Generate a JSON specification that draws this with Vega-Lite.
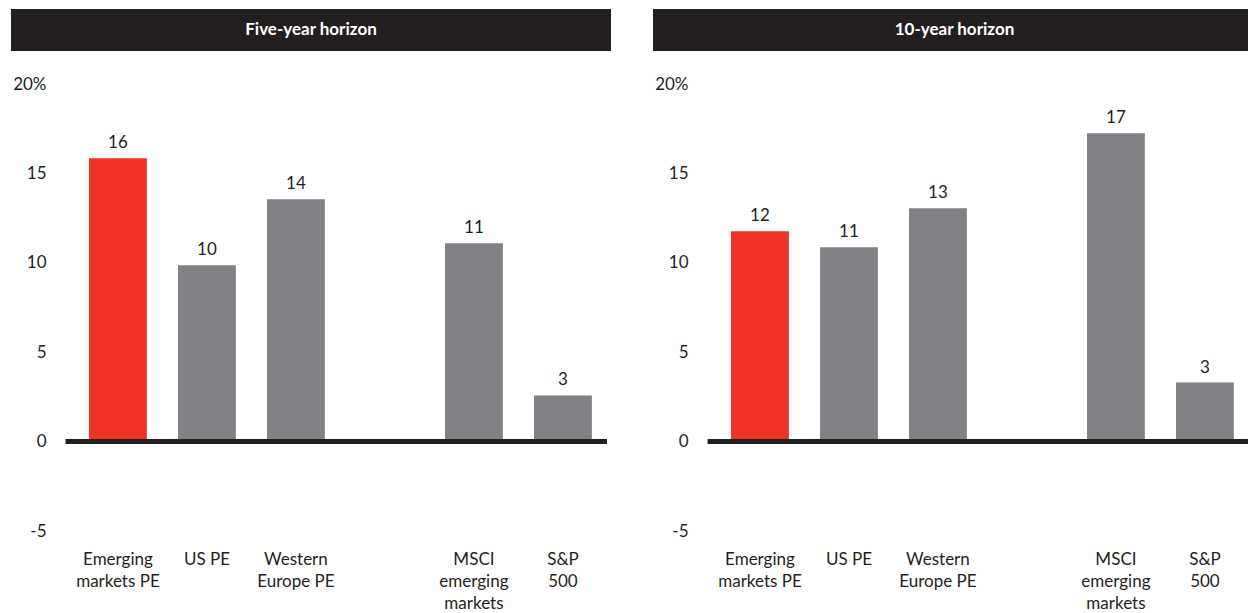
{
  "$schema": "https://vega.github.io/schema/vega-lite/v6.json",
  "padding": {"left": 11, "top": 9, "right": 0, "bottom": 0},
  "background": "white",
  "config": {
    "view": {"stroke": null},
    "font": "Lato",
    "axis": {"grid": false, "domain": false, "ticks": false, "labelFont": "Lato", "labelColor": "#231f20", "labelFontSize": 17}
  },
  "datasets": {
    "returns": [
      {"horizon": "Five-year horizon", "category": "Emerging markets PE", "value": 15.85, "highlight": "yes"},
      {"horizon": "Five-year horizon", "category": "US PE", "value": 9.86, "highlight": "no"},
      {"horizon": "Five-year horizon", "category": "Western Europe PE", "value": 13.56, "highlight": "no"},
      {"horizon": "Five-year horizon", "category": "MSCI emerging markets", "value": 11.09, "highlight": "no"},
      {"horizon": "Five-year horizon", "category": "S&P 500", "value": 2.58, "highlight": "no"},
      {"horizon": "10-year horizon", "category": "Emerging markets PE", "value": 11.76, "highlight": "yes"},
      {"horizon": "10-year horizon", "category": "US PE", "value": 10.87, "highlight": "no"},
      {"horizon": "10-year horizon", "category": "Western Europe PE", "value": 13.05, "highlight": "no"},
      {"horizon": "10-year horizon", "category": "MSCI emerging markets", "value": 17.25, "highlight": "no"},
      {"horizon": "10-year horizon", "category": "S&P 500", "value": 3.3, "highlight": "no"}
    ],
    "titles": [
      {"horizon": "Five-year horizon"},
      {"horizon": "10-year horizon"}
    ]
  },
  "hconcat": [
    {
      "spacing": 24,
      "vconcat": [
        {
          "width": 600,
          "height": 42,
          "view": {"fill": "#231f20", "stroke": null},
          "data": {"name": "titles"},
          "transform": [{"filter": "datum.horizon == 'Five-year horizon'"}],
          "mark": {"type": "text", "color": "white", "fontWeight": "bold", "fontSize": 17, "font": "Lato"},
          "encoding": {"text": {"field": "horizon"}}
        },
        {
          "width": 600,
          "height": 447,
          "data": {"name": "returns"},
          "transform": [{"filter": "datum.horizon == 'Five-year horizon'"}],
          "encoding": {
            "x": {
              "field": "category",
              "type": "nominal",
              "sort": null,
              "scale": {"domain": ["Emerging markets PE", "US PE", "Western Europe PE", "gap", "MSCI emerging markets", "S&P 500"], "paddingInner": 0.35, "paddingOuter": 0.5458, "align": 0.803},
              "axis": {"title": null, "labelAngle": 0, "labelPadding": 20, "labelLineHeight": 22, "labelBaseline": "top",
                "labelExpr": "datum.value == 'Emerging markets PE' ? ['Emerging', 'markets PE'] : datum.value == 'Western Europe PE' ? ['Western', 'Europe PE'] : datum.value == 'MSCI emerging markets' ? ['MSCI', 'emerging', 'markets'] : datum.value == 'S&P 500' ? ['S&P', '500'] : datum.value == 'gap' ? '' : datum.label"}
            },
            "y": {
              "field": "value",
              "type": "quantitative",
              "scale": {"domain": [-5, 20], "nice": false, "zero": false},
              "axis": {"title": null, "offset": -55, "values": [-5, 0, 5, 10, 15, 20], "labelPadding": 20, "labelExpr": "datum.value == 20 ? '20%' : datum.value == -5 ? '-5' : datum.label"}
            }
          },
          "layer": [
            {
              "mark": {"type": "bar"},
              "encoding": {
                "color": {"field": "highlight", "type": "nominal", "scale": {"domain": ["yes", "no"], "range": ["#ee3224", "#808285"]}, "legend": null}
              }
            },
            {
              "mark": {"type": "text", "baseline": "bottom", "dy": -6, "fontSize": 17, "color": "#231f20"},
              "encoding": {"text": {"field": "value", "type": "quantitative", "format": ".0f"}}
            },
            {
              "mark": {"type": "rule", "color": "#231f20", "strokeWidth": 5},
              "encoding": {
                "y": {"datum": 0},
                "x": {"datum": "Emerging markets PE", "bandPosition": -0.4},
                "x2": {"datum": "S&P 500", "bandPosition": 1.26}
              }
            }
          ]
        }
      ]
    },
    {
      "spacing": 24,
      "vconcat": [
        {
          "width": 595,
          "height": 42,
          "view": {"fill": "#231f20", "stroke": null},
          "data": {"name": "titles"},
          "transform": [{"filter": "datum.horizon == '10-year horizon'"}],
          "mark": {"type": "text", "color": "white", "fontWeight": "bold", "fontSize": 17, "font": "Lato", "dx": 4},
          "encoding": {"text": {"field": "horizon"}}
        },
        {
          "width": 595,
          "height": 447,
          "data": {"name": "returns"},
          "transform": [{"filter": "datum.horizon == '10-year horizon'"}],
          "encoding": {
            "x": {
              "field": "category",
              "type": "nominal",
              "sort": null,
              "scale": {"domain": ["Emerging markets PE", "US PE", "Western Europe PE", "gap", "MSCI emerging markets", "S&P 500"], "paddingInner": 0.35, "paddingOuter": 0.518, "align": 0.8465},
              "axis": {"title": null, "labelAngle": 0, "labelPadding": 20, "labelLineHeight": 22, "labelBaseline": "top",
                "labelExpr": "datum.value == 'Emerging markets PE' ? ['Emerging', 'markets PE'] : datum.value == 'Western Europe PE' ? ['Western', 'Europe PE'] : datum.value == 'MSCI emerging markets' ? ['MSCI', 'emerging', 'markets'] : datum.value == 'S&P 500' ? ['S&P', '500'] : datum.value == 'gap' ? '' : datum.label"}
            },
            "y": {
              "field": "value",
              "type": "quantitative",
              "scale": {"domain": [-5, 20], "nice": false, "zero": false},
              "axis": {"title": null, "offset": -55, "values": [-5, 0, 5, 10, 15, 20], "labelPadding": 20, "labelExpr": "datum.value == 20 ? '20%' : datum.value == -5 ? '-5' : datum.label"}
            }
          },
          "layer": [
            {
              "mark": {"type": "bar"},
              "encoding": {
                "color": {"field": "highlight", "type": "nominal", "scale": {"domain": ["yes", "no"], "range": ["#ee3224", "#808285"]}, "legend": null}
              }
            },
            {
              "mark": {"type": "text", "baseline": "bottom", "dy": -6, "fontSize": 17, "color": "#231f20"},
              "encoding": {"text": {"field": "value", "type": "quantitative", "format": ".0f"}}
            },
            {
              "mark": {"type": "rule", "color": "#231f20", "strokeWidth": 5},
              "encoding": {
                "y": {"datum": 0},
                "x": {"datum": "Emerging markets PE", "bandPosition": -0.4},
                "x2": {"datum": "S&P 500", "bandPosition": 1.4}
              }
            }
          ]
        }
      ]
    }
  ],
  "spacing": 42,
  "resolve": {"scale": {"color": "shared"}}
}
